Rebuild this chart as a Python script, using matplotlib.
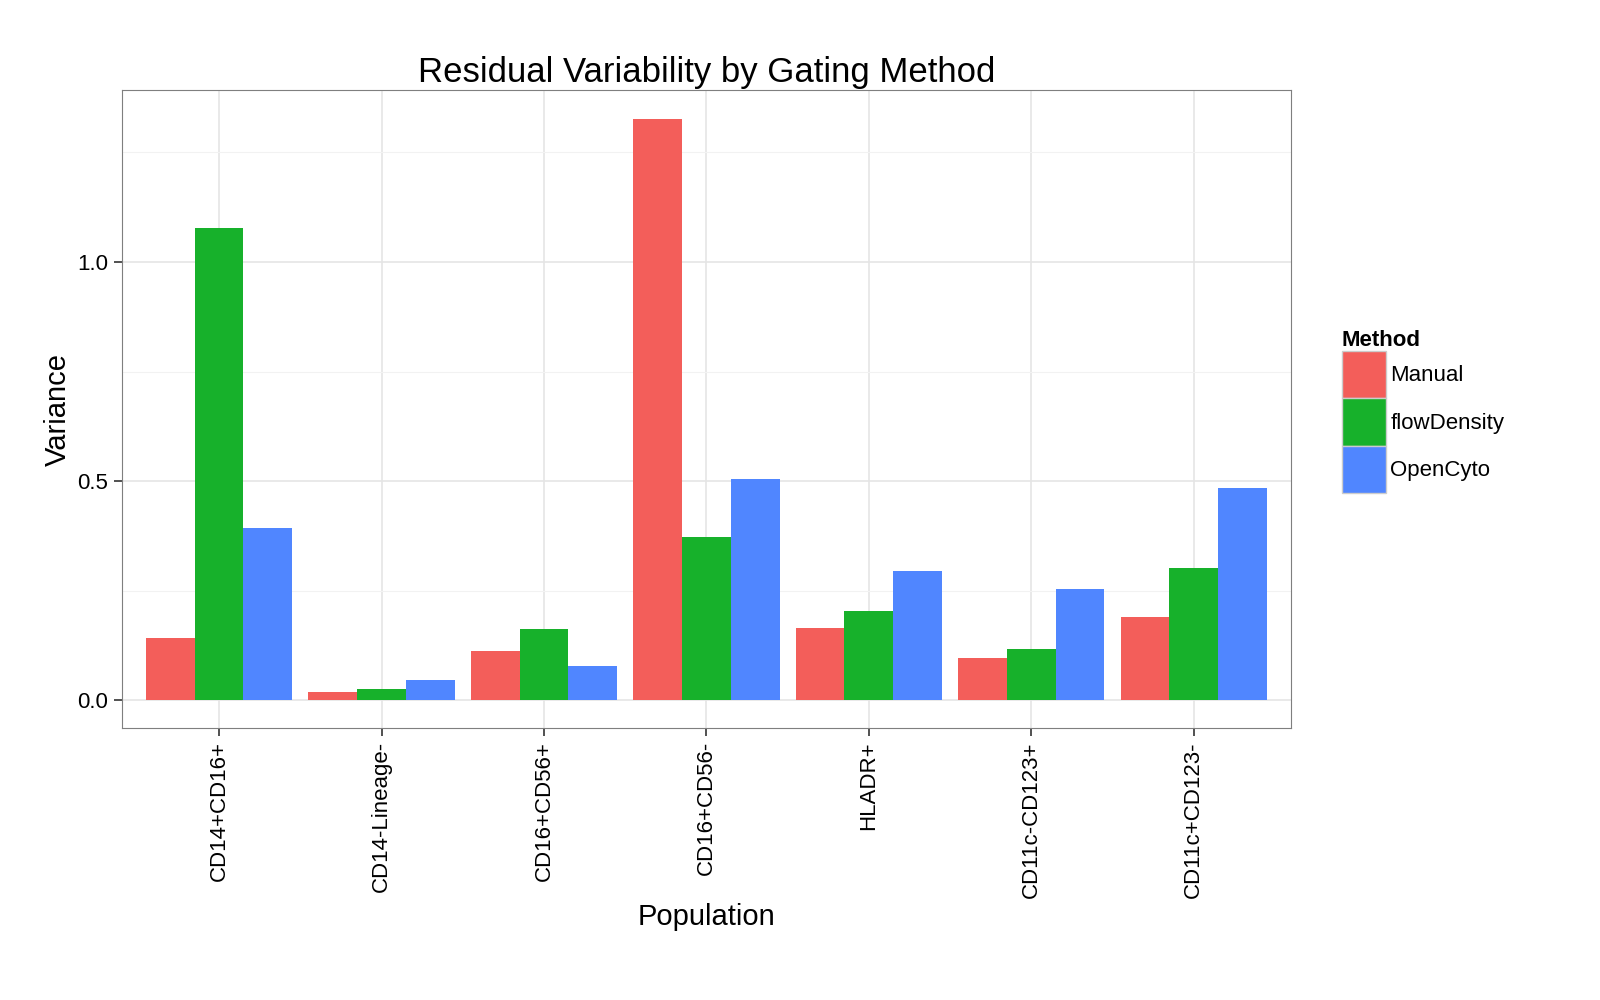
import matplotlib
matplotlib.use("Agg")
import matplotlib.pyplot as plt
import numpy as np
from matplotlib.patches import Patch

plt.rcParams['font.family'] = ['Liberation Sans', 'DejaVu Sans']

populations = ["CD14+CD16+", "CD14-Lineage-", "CD16+CD56+", "CD16+CD56-", "HLADR+", "CD11c-CD123+", "CD11c+CD123-"]
methods = ["Manual", "flowDensity", "OpenCyto"]
manual = [0.142, 0.019, 0.112, 1.326, 0.165, 0.096, 0.191]
flowdensity = [1.077, 0.026, 0.163, 0.373, 0.203, 0.117, 0.301]
opencyto = [0.392, 0.047, 0.079, 0.506, 0.296, 0.254, 0.485]
colors = ["#F35E5A", "#17B12B", "#5086FF"]

fig = plt.figure(figsize=(16, 10), dpi=100)
ax = fig.add_axes([0.076, 0.272, 0.731, 0.638])
x = np.arange(len(populations))
w = 0.3
for i, (vals, c) in enumerate(zip([manual, flowdensity, opencyto], colors)):
    ax.bar(x + (i - 1) * w, vals, w, color=c, zorder=3)

ax.set_xlim(-0.6, len(populations) - 0.4)
ax.set_ylim(-0.063, 1.392)
ax.set_yticks([0.0, 0.5, 1.0])
ax.set_yticklabels(["0.0", "0.5", "1.0"])
ax.set_yticks([0.25, 0.75, 1.25], minor=True)
ax.tick_params(axis="y", which="minor", length=0)
ax.set_xticks(x)
ax.set_xticklabels(populations, rotation=90)
ax.grid(True, which="major", color="#E5E5E5", lw=1.2, zorder=0)
ax.grid(True, which="minor", axis="y", color="#F2F2F2", lw=0.8, zorder=0)
for s in ax.spines.values():
    s.set_color("#7F7F7F")
ax.tick_params(axis="both", which="major", labelsize=16, color="#333333", length=6, width=1.2)
ax.set_xlabel("Population", fontsize=21)
ax.set_ylabel("Variance", fontsize=21)
ax.set_title("Residual Variability by Gating Method", fontsize=25)

handles = [Patch(facecolor=c, edgecolor="#CCCCCC", label=m) for c, m in zip(colors, methods)]
leg = fig.legend(handles=handles, title="Method", loc="upper left", bbox_to_anchor=(0.826, 0.69),
                 frameon=False, fontsize=16, title_fontproperties={"weight": "bold", "size": 16},
                 handlelength=2.0, handleheight=2.9, handletextpad=0.2, labelspacing=0.0)
leg._legend_box.align = "left"
fig.savefig("out.png", dpi=100)
